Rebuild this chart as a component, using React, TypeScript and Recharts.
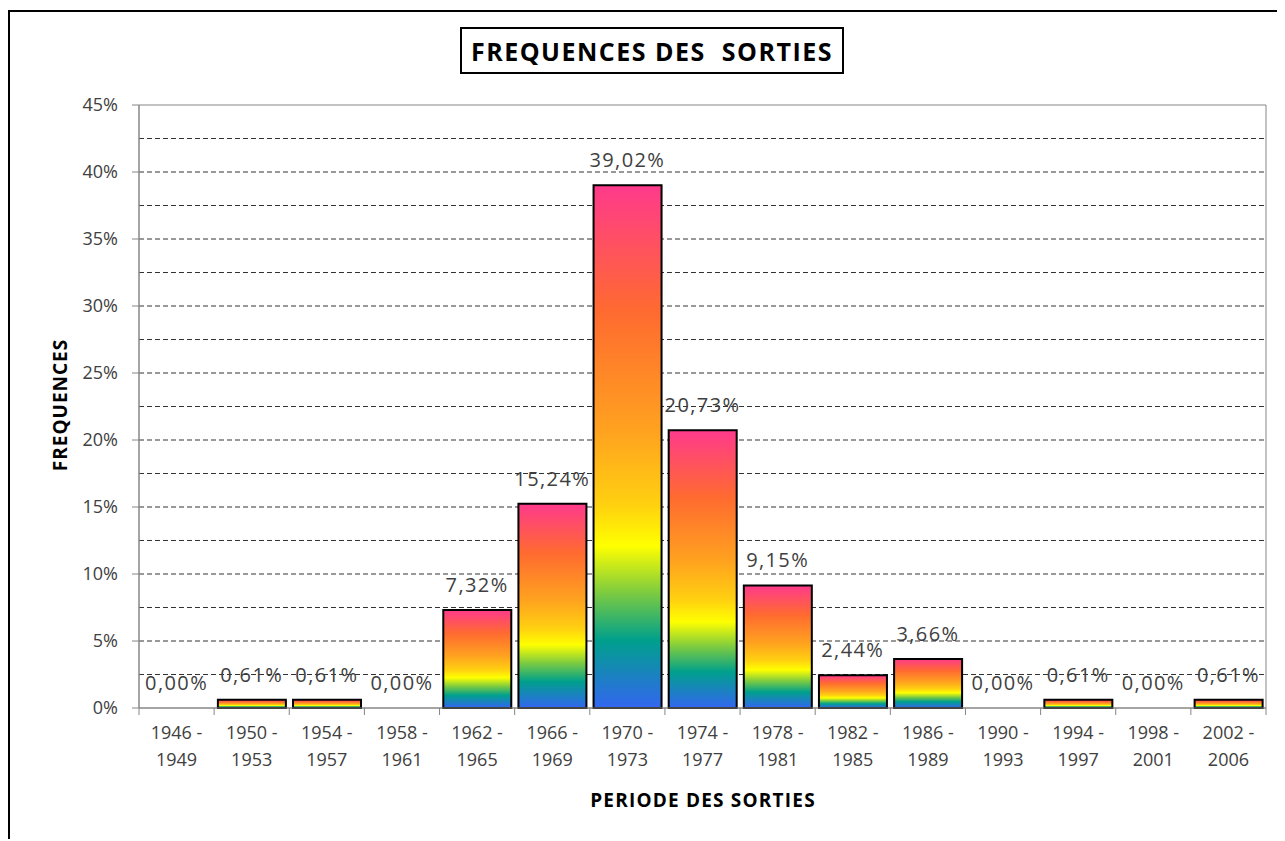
import { Bar, CartesianGrid, ComposedChart, LabelList, Line, ReferenceArea, XAxis, YAxis } from 'recharts';

const periods = [
  '1946 - 1949',
  '1950 - 1953',
  '1954 - 1957',
  '1958 - 1961',
  '1962 - 1965',
  '1966 - 1969',
  '1970 - 1973',
  '1974 - 1977',
  '1978 - 1981',
  '1982 - 1985',
  '1986 - 1989',
  '1990 - 1993',
  '1994 - 1997',
  '1998 - 2001',
  '2002 - 2006',
];
const frequencies = [0, 0.61, 0.61, 0, 7.32, 15.24, 39.02, 20.73, 9.15, 2.44, 3.66, 0, 0.61, 0, 0.61];
const yTicks = [0, 5, 10, 15, 20, 25, 30, 35, 40, 45];
const gridLines = [2.5, 5, 7.5, 10, 12.5, 15, 17.5, 20, 22.5, 25, 27.5, 30, 32.5, 35, 37.5, 40, 42.5];

const data = periods.map((period, i) => ({ period, value: frequencies[i] }));

const FONT = "'Open Sans', 'Noto Sans', sans-serif";
const CHART_W = 1275;
const CHART_H = 829;
const MARGIN = { top: 93, right: 19, left: 69, bottom: 73 };
const Y_AXIS_W = 60;
const BAND = (CHART_W - MARGIN.left - MARGIN.right - Y_AXIS_W) / periods.length;

function PeriodTick(props: any) {
  const { x, y, payload, index } = props;
  const [from, to] = String(payload.value).split(' - ');
  const last = index === periods.length - 1;
  return (
    <g>
      <line x1={x - BAND / 2} x2={x - BAND / 2} y1={y} y2={y + 7} stroke="#868686" />
      {last && <line x1={x + BAND / 2} x2={x + BAND / 2} y1={y} y2={y + 7} stroke="#868686" />}
      <text x={x} y={y} textAnchor="middle" fontFamily={FONT} fontSize={18} fill="#404040">
        <tspan x={x} dy={31}>{from} -</tspan>
        <tspan x={x} dy={27}>{to}</tspan>
      </text>
    </g>
  );
}

function formatPercent(value: unknown) {
  return `${Number(value ?? 0).toFixed(2).replace('.', ',')}%`;
}

export default function App() {
  return (
    <div
      style={{
        position: 'relative',
        top: 2,
        width: 1277,
        height: 831,
        boxSizing: 'border-box',
        borderTop: '2px solid #000',
        borderLeft: '2px solid #000',
        fontFamily: FONT,
        background: '#fff',
      }}
    >
      <div
        style={{
          position: 'absolute',
          left: 450,
          top: 15,
          width: 384,
          height: 47,
          boxSizing: 'border-box',
          border: '2px solid #000',
          display: 'flex',
          alignItems: 'center',
          justifyContent: 'center',
          fontWeight: 700,
          fontSize: 25,
          letterSpacing: 1.5,
          whiteSpace: 'pre',
          color: '#000',
        }}
      >
        {'FREQUENCES DES  SORTIES'}
      </div>
      <div
        style={{
          position: 'absolute',
          left: 50,
          top: 393,
          transform: 'translate(-50%, -50%) rotate(-90deg)',
          fontWeight: 700,
          fontSize: 19,
          letterSpacing: 1,
          whiteSpace: 'nowrap',
          color: '#000',
        }}
      >
        FREQUENCES
      </div>
      <div
        style={{
          position: 'absolute',
          left: 693,
          top: 788,
          transform: 'translate(-50%, -50%)',
          fontWeight: 700,
          fontSize: 19,
          letterSpacing: 1.2,
          whiteSpace: 'nowrap',
          color: '#000',
        }}
      >
        PERIODE DES SORTIES
      </div>
      <div style={{ position: 'absolute', left: 0, top: 0 }}>
        <ComposedChart width={CHART_W} height={CHART_H} data={data} margin={MARGIN} barCategoryGap="5%">
          <defs>
            <linearGradient id="rainbow" x1="0" y1="0" x2="0" y2="1">
              <stop offset="0%" stopColor="#ff3a8c" />
              <stop offset="24%" stopColor="#ff6a30" />
              <stop offset="47%" stopColor="#ffa21f" />
              <stop offset="61%" stopColor="#ffd010" />
              <stop offset="69%" stopColor="#ffff00" />
              <stop offset="78%" stopColor="#7ccb40" />
              <stop offset="87%" stopColor="#00a08c" />
              <stop offset="100%" stopColor="#3366f0" />
            </linearGradient>
          </defs>
          <CartesianGrid vertical={false} horizontalValues={gridLines} stroke="#333" strokeDasharray="5 3" />
          <ReferenceArea y1={0} y2={45} fill="none" stroke="#868686" strokeWidth={1} ifOverflow="visible" />
          <XAxis
            dataKey="period"
            interval={0}
            height={60}
            tickSize={0}
            tickMargin={0}
            tickLine={false}
            axisLine={{ stroke: '#868686' }}
            tick={<PeriodTick />}
          />
          <YAxis
            width={Y_AXIS_W}
            domain={[0, 45]}
            ticks={yTicks}
            interval={0}
            tickSize={7}
            tickMargin={14}
            tickLine={{ stroke: '#868686' }}
            axisLine={{ stroke: '#868686' }}
            tick={{ fill: '#404040', fontSize: 18, fontFamily: FONT }}
            tickFormatter={(v: number) => `${v}%`}
          />
          <Bar dataKey="value" fill="url(#rainbow)" stroke="#000" strokeWidth={2} isAnimationActive={false} />
          <Line
            dataKey="value"
            stroke="none"
            dot={false}
            activeDot={false}
            legendType="none"
            isAnimationActive={false}
          >
            <LabelList
              dataKey="value"
              position="top"
              offset={18}
              formatter={formatPercent}
              fill="#404040"
              fontSize={20}
              fontFamily={FONT}
              letterSpacing={1.4}
            />
          </Line>
        </ComposedChart>
      </div>
    </div>
  );
}
